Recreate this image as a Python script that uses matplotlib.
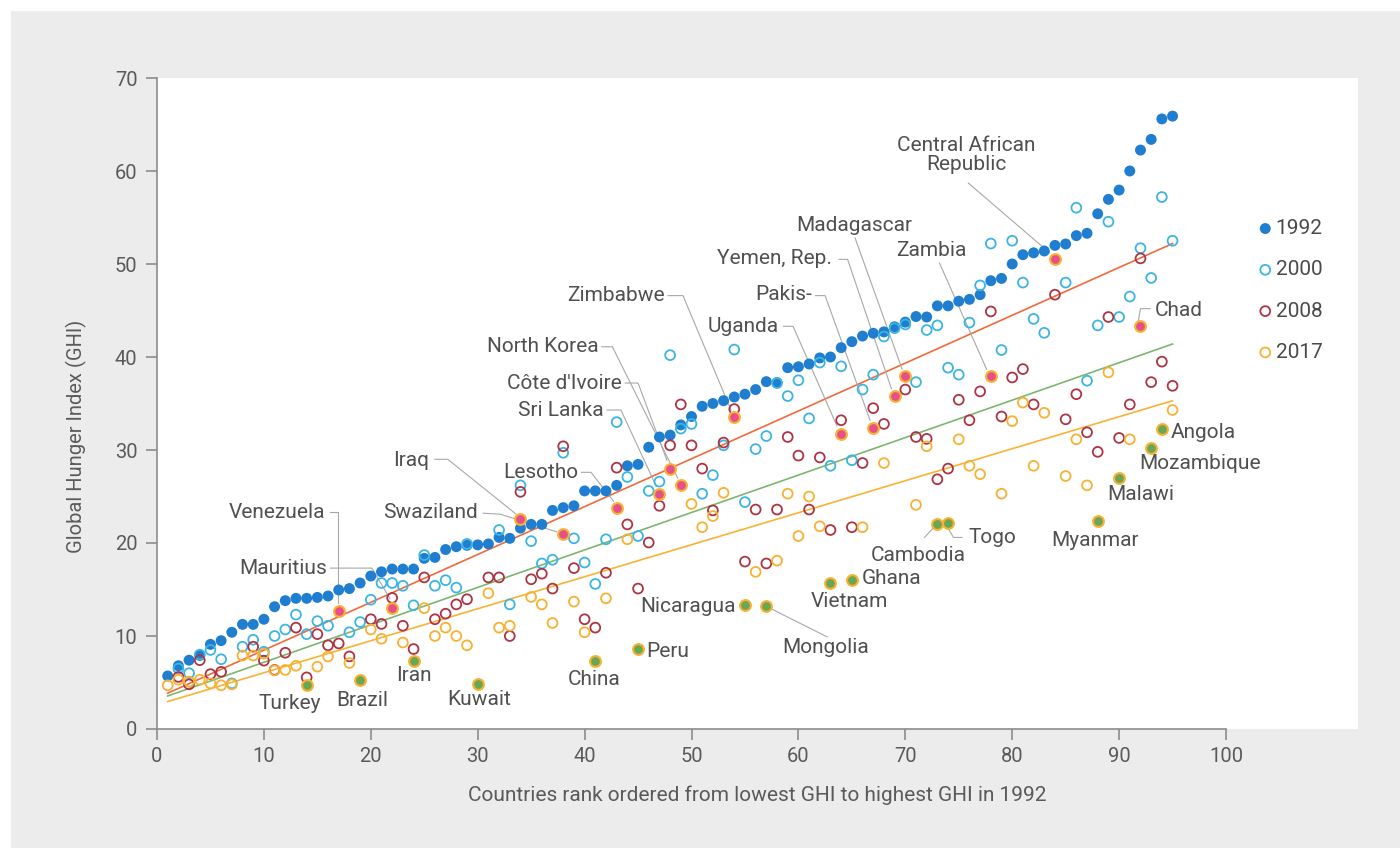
import numpy as np
import matplotlib
matplotlib.use('Agg')
import matplotlib.pyplot as plt
from matplotlib.patches import Rectangle

plt.rcParams['font.family'] = ['Roboto', 'DejaVu Sans']

nan = np.nan

# countries ranked by GHI 1992 (1 = lowest)
rank = np.arange(1, 96)

ghi_1992 = [5.7, 6.8, 7.4, 7.9, 9.1, 9.5, 10.4, 11.25, 11.25, 11.8,
            13.15, 13.8, 14.05, 14.05, 14.15, 14.3, 14.95, 15.1, 15.7, 16.45,
            16.9, 17.2, 17.2, 17.2, 18.35, 18.45, 19.3, 19.6, 19.75, 19.8,
            19.9, 20.6, 20.5, 21.6, 22.0, 22.0, 23.5, 23.8, 24.0, 25.6,
            25.6, 25.6, 26.2, 28.3, 28.45, 30.3, 31.4, 31.6, 32.7, 33.6,
            34.7, 35.0, 35.3, 35.7, 36.0, 36.5, 37.35, 37.25, 38.85, 38.95,
            39.25, 39.9, 40.0, 41.0, 41.65, 42.25, 42.55, 42.7, 43.25, 43.75,
            44.35, 44.3, 45.5, 45.5, 46.0, 46.2, 46.7, 48.2, 48.45, 50.0,
            51.0, 51.2, 51.4, 52.0, 52.15, 53.05, 53.3, 55.4, 56.95, 57.95,
            60.0, 62.25, 63.4, 65.6, 65.9]

ghi_2000 = [nan, 6.5, 6.0, 8.0, 8.5, 7.5, 4.9, 8.85, 9.6, 8.3,
            10.0, 10.7, 12.3, 10.2, 11.6, 11.1, nan, 10.4, 11.5, 13.9,
            15.7, 15.7, 15.4, 13.3, 18.7, 15.4, 16.0, 15.2, 19.9, nan,
            nan, 21.4, 13.4, 26.2, 20.2, 17.8, 18.2, 29.7, 20.5, 17.9,
            15.6, 20.4, 33.0, 27.1, 20.75, 25.6, 26.6, 40.2, 32.3, 32.8,
            25.3, 27.3, 30.5, 40.8, 24.4, 30.1, 31.5, 37.2, 35.8, 37.5,
            33.4, 39.4, 28.3, 39.0, 28.9, 36.5, 38.1, 42.2, 43.1, 43.5,
            37.3, 42.9, 43.4, 38.85, 38.1, 43.7, 47.7, 52.2, 40.75, 52.5,
            48.0, 44.1, 42.6, nan, 48.0, 56.05, 37.45, 43.4, 54.55, 44.3,
            46.5, 51.7, 48.5, 57.2, 52.5]

ghi_2008 = [nan, 5.6, 4.8, 7.4, 5.9, 6.15, nan, nan, 8.85, 7.35,
            6.35, 8.2, 10.9, 5.55, 10.2, 9.0, 9.2, 7.8, nan, 11.8,
            11.3, 14.1, 11.1, 8.6, 16.3, 11.8, 12.4, 13.4, 13.95, nan,
            16.3, 16.3, 10.0, 25.5, 16.1, 16.7, 15.1, 30.4, 17.3, 11.8,
            10.9, 16.8, 28.1, 22.0, 15.1, 20.05, 24.0, 30.5, 34.9, 30.5,
            28.0, 23.5, 30.8, 34.4, 18.0, 23.6, 17.8, 23.6, 31.4, 29.4,
            23.6, 29.2, 21.4, 33.2, 21.7, 28.6, 34.5, 32.8, nan, 36.5,
            31.4, 31.2, 26.85, 28.0, 35.4, 33.2, 36.3, 44.9, 33.6, 37.8,
            38.7, 34.9, nan, 46.7, 33.3, 36.0, 31.9, 29.8, 44.3, 31.3,
            34.9, 50.6, 37.3, 39.5, 36.9]

ghi_2017 = [4.7, 5.3, 5.1, 5.3, 4.9, 4.7, 4.8, 7.9, 7.9, 8.1,
            6.3, 6.35, 6.8, 4.7, 6.7, 7.8, 12.7, 7.1, 5.3, 10.7,
            9.7, 13.0, 9.3, 7.3, 13.0, 10.0, 10.9, 10.0, 9.0, 4.85,
            14.6, 10.9, 11.1, 22.6, 14.2, 13.4, 11.4, 21.0, 13.7, 10.4,
            7.3, 14.05, 23.8, 20.4, 8.6, nan, 25.3, 28.0, 26.2, 24.2,
            21.7, 22.9, 25.4, 33.5, 13.3, 16.9, 13.2, 18.1, 25.3, 20.75,
            25.0, 21.8, 15.7, 31.7, 16.0, 21.7, 32.4, 28.6, 35.8, 38.0,
            24.1, 30.4, 22.0, 22.2, 31.15, 28.3, 27.4, 37.95, 25.3, 33.1,
            35.1, 28.3, 34.0, 50.5, 27.2, 31.15, 26.2, 22.4, 38.35, 26.95,
            31.15, 43.3, 30.25, 32.3, 34.3]

# trend lines (end points)
trend_x = [1, 95]
trend_2000 = [3.85, 52.2]
trend_2008 = [3.55, 41.4]
trend_2017 = [2.95, 35.3]

# highlighted countries (2017 value)
pink_names = ['Venezuela', 'Mauritius', 'Iraq', 'Swaziland', 'Lesotho', 'Sri Lanka',
              "Côte d'Ivoire", 'North Korea', 'Zimbabwe', 'Uganda', 'Pakis-',
              'Yemen, Rep.', 'Madagascar', 'Zambia', 'Central African\nRepublic', 'Chad']
pink_ranks = [17, 22, 34, 38, 43, 47, 48, 49, 54, 64, 67, 69, 70, 78, 84, 92]
green_names = ['Turkey', 'Brazil', 'Iran', 'Kuwait', 'China', 'Peru', 'Nicaragua',
               'Mongolia', 'Vietnam', 'Ghana', 'Cambodia', 'Togo', 'Myanmar',
               'Malawi', 'Mozambique', 'Angola']
green_ranks = [14, 19, 24, 30, 41, 45, 55, 57, 63, 65, 73, 74, 88, 90, 93, 94]

# label text positions (x, y, ha) and leader lines
label_pos = {
    'Venezuela': (15.7, 23.3, 'right'), 'Mauritius': (15.9, 17.3, 'right'),
    'Iraq': (25.5, 28.9, 'right'), 'Swaziland': (30.0, 23.3, 'right'),
    'Lesotho': (39.4, 27.6, 'right'), 'Sri Lanka': (41.8, 34.3, 'right'),
    "Côte d'Ivoire": (43.5, 37.2, 'right'), 'North Korea': (41.3, 41.1, 'right'),
    'Zimbabwe': (47.5, 46.6, 'right'), 'Uganda': (58.2, 43.3, 'right'),
    'Pakis-': (61.3, 46.7, 'right'), 'Yemen, Rep.': (63.1, 50.6, 'right'),
    'Madagascar': (65.2, 54.1, 'center'), 'Zambia': (72.4, 51.5, 'center'),
    'Central African\nRepublic': (75.7, 61.7, 'center'), 'Chad': (93.3, 45.0, 'left'),
    'Turkey': (12.4, 2.7, 'center'), 'Brazil': (19.2, 3.1, 'center'),
    'Iran': (24.0, 5.8, 'center'), 'Kuwait': (30.1, 3.2, 'center'),
    'China': (40.9, 5.3, 'center'), 'Peru': (45.8, 8.3, 'left'),
    'Nicaragua': (54.1, 13.2, 'right'), 'Mongolia': (62.5, 8.8, 'center'),
    'Vietnam': (64.8, 13.7, 'center'), 'Ghana': (65.9, 16.2, 'left'),
    'Cambodia': (71.2, 18.7, 'center'), 'Togo': (75.9, 20.6, 'left'),
    'Myanmar': (87.7, 20.3, 'center'), 'Malawi': (92.0, 25.2, 'center'),
    'Mozambique': (97.6, 28.5, 'center'), 'Angola': (94.8, 31.9, 'left'),
}
leaders = {
    'Venezuela': [(16.2, 23.3), (16.9, 23.3), (16.9, 13.6)],
    'Mauritius': [(16.2, 17.3), (20.1, 17.3), (21.8, 14.0)],
    'Iraq': [(26.0, 29.0), (27.2, 29.0), (33.6, 23.1)],
    'Swaziland': [(30.5, 23.2), (32.1, 23.1), (37.4, 21.2)],
    'Lesotho': [(39.7, 27.6), (40.6, 27.6), (42.7, 24.5)],
    'Sri Lanka': [(42.1, 34.3), (43.4, 34.3), (46.7, 26.1)],
    "Côte d'Ivoire": [(43.8, 37.2), (45.0, 37.2), (47.7, 28.9)],
    'North Korea': [(41.6, 41.1), (42.6, 41.1), (48.7, 27.0)],
    'Zimbabwe': [(47.8, 46.6), (49.2, 46.6), (53.7, 34.3)],
    'Uganda': [(58.6, 43.3), (59.5, 43.3), (63.6, 32.6)],
    'Pakis-': [(61.6, 46.6), (62.5, 46.6), (66.7, 33.2)],
    'Yemen, Rep.': [(63.8, 50.5), (64.6, 50.5), (68.7, 36.6)],
    'Madagascar': [(65.3, 52.8), (69.7, 38.7)],
    'Zambia': [(73.2, 50.1), (77.6, 38.7)],
    'Central African\nRepublic': [(75.9, 58.7), (83.5, 51.2)],
    'Chad': [(91.8, 43.9), (92.0, 45.2), (92.9, 45.2)],
    'Mongolia': [(57.5, 12.9), (62.7, 9.9)],
    'Cambodia': [(72.6, 21.6), (71.8, 20.6)],
    'Togo': [(74.0, 21.6), (74.5, 20.6), (75.3, 20.6)],
}

c1992 = '#1f7ecf'
c2000 = '#3bb5e3'
c2008 = '#ad3445'
c2017 = '#f8b133'
c_pink = '#e5508a'
c_green = '#6aa653'
text_col = '#505050'

fig = plt.figure(figsize=(14, 8.48), dpi=100, facecolor='#ececec')
fig.patches.append(Rectangle((0, 1 - 11 / 848), 1, 11 / 848, transform=fig.transFigure,
                             facecolor='white', edgecolor='none', zorder=-1))
fig.patches.append(Rectangle((0, 0), 11 / 1400, 1, transform=fig.transFigure,
                             facecolor='white', edgecolor='none', zorder=-1))

ax = fig.add_axes([157 / 1400, 1 - 729 / 848, (1358 - 157) / 1400, (729 - 78) / 848])
ax.set_facecolor('white')
ax.set_xlim(0, (1358 - 157) / 10.69)
ax.set_ylim(0, 70)

ax.plot(trend_x, trend_2000, color='#f26a3b', lw=1.2, zorder=2)
ax.plot(trend_x, trend_2008, color='#7db66f', lw=1.2, zorder=2)
ax.plot(trend_x, trend_2017, color='#f9b233', lw=1.2, zorder=2)

h1992 = ax.scatter(rank, ghi_1992, s=62, color=c1992, edgecolors='none', zorder=3)
h2000 = ax.scatter(rank, ghi_2000, s=50, facecolors='none', edgecolors=c2000, linewidths=1.3, zorder=4)
h2008 = ax.scatter(rank, ghi_2008, s=50, facecolors='none', edgecolors=c2008, linewidths=1.3, zorder=5)

g2017 = np.array(ghi_2017)
special = set(pink_ranks) | set(green_ranks)
normal = np.array([r not in special for r in rank])
h2017 = ax.scatter(rank[normal], g2017[normal], s=50, facecolors='none', edgecolors=c2017,
                   linewidths=1.3, zorder=6)
pr = np.array(pink_ranks)
gr = np.array(green_ranks)
ax.scatter(pr, g2017[pr - 1], s=60, facecolors=c_pink, edgecolors=c2017, linewidths=1.5, zorder=7)
ax.scatter(gr, g2017[gr - 1], s=60, facecolors=c_green, edgecolors=c2017, linewidths=1.5, zorder=7)

for name, (x, y, ha) in label_pos.items():
    ax.text(x, y, name, ha=ha, va='center', fontsize=15, color=text_col,
            linespacing=1.0, zorder=8)
for name, pts in leaders.items():
    xs, ys = zip(*pts)
    ax.plot(xs, ys, color='#a8a8a8', lw=0.8, zorder=2.5)

for s in ['top', 'right']:
    ax.spines[s].set_visible(False)
for s in ['left', 'bottom']:
    ax.spines[s].set_color('#8c8c8c')
    ax.spines[s].set_linewidth(1.2)
ax.spines['bottom'].set_bounds(0, 100)
ax.set_xticks(range(0, 101, 10))
ax.set_yticks(range(0, 71, 10))
ax.tick_params(axis='both', colors='#8c8c8c', length=8, width=1.2, labelsize=14.5,
               labelcolor='#5a5a5a')
ax.tick_params(axis='y', pad=6)
ax.tick_params(axis='x', pad=5)

fig.text(757 / 1400, 1 - 795 / 848, 'Countries rank ordered from lowest GHI to highest GHI in 1992',
         ha='center', va='center', fontsize=15, color='#5a5a5a')
fig.text(76 / 1400, 1 - 436 / 848, 'Global Hunger Index (GHI)', rotation=90,
         ha='center', va='center', fontsize=14.5, color='#5a5a5a')

ax.legend([h1992, h2000, h2008, h2017], ['1992', '2000', '2008', '2017'],
          loc='upper left', bbox_to_anchor=(1259 / 1400, 1 - 219 / 848),
          bbox_transform=fig.transFigure, frameon=False, fontsize=15,
          handletextpad=0.2, labelspacing=1.07, handlelength=0.6, borderpad=0,
          borderaxespad=0, scatterpoints=1, markerscale=1.0, labelcolor='#4a4a4a')

fig.savefig('out.png', dpi=100, facecolor=fig.get_facecolor())
